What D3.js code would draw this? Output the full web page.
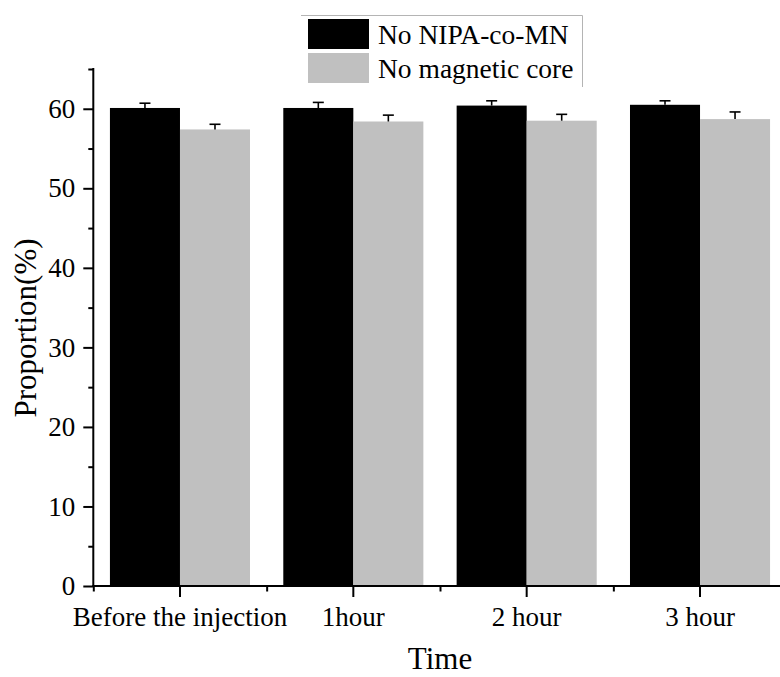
<!DOCTYPE html>
<html>
<head>
<meta charset="utf-8">
<script src="https://cdn.jsdelivr.net/npm/d3@7/dist/d3.min.js"></script>
<style>
  html, body { margin: 0; padding: 0; background: #fff; }
  svg { display: block; font-family: "Liberation Serif", "Times New Roman", serif; }
</style>
</head>
<body>
<svg id="chart" width="780" height="677"></svg>
<script>
const categories = ["Before the injection", "1hour", "2 hour", "3 hour"];
const seriesNames = ["No NIPA-co-MN", "No magnetic core"];
const seriesColors = ["#000000", "#c0c0c0"];
const noNipaValues = [60.1, 60.1, 60.4, 60.5];
const noNipaErrors = [0.6, 0.7, 0.6, 0.5];
const noCoreValues = [57.4, 58.4, 58.5, 58.7];
const noCoreErrors = [0.65, 0.8, 0.8, 0.9];
const yTicks = [0, 10, 20, 30, 40, 50, 60];
const yMinorTicks = [5, 15, 25, 35, 45, 55, 65];

(function () {
const svg = d3.select("#chart");
const mLeft = 93.3, mRight = 786.7, mTop = 69, mBottom = 586;

const x = d3.scaleBand().domain(categories).range([mLeft, mRight]).padding(0);
const xLin = d3.scaleLinear().domain([0, categories.length]).range([mLeft, mRight]);
const y = d3.scaleLinear().domain([0, 65]).range([mBottom, mTop]);

const bw = x.bandwidth();
const barW = bw * 0.404;

const series = [
  { name: seriesNames[0], color: seriesColors[0], values: noNipaValues, errors: noNipaErrors, off: -barW },
  { name: seriesNames[1], color: seriesColors[1], values: noCoreValues, errors: noCoreErrors, off: 0 }
];

// bars
series.forEach(s => {
  const g = svg.append("g");
  g.selectAll("rect").data(categories).join("rect")
    .attr("x", d => x(d) + bw / 2 + s.off)
    .attr("y", (d, i) => y(s.values[i]))
    .attr("width", barW)
    .attr("height", (d, i) => y(0) - y(s.values[i]))
    .attr("fill", s.color);
  const eg = svg.append("g").attr("stroke", "#000").attr("stroke-width", 1.6);
  categories.forEach((c, i) => {
    const cx = x(c) + bw / 2 + s.off + barW / 2;
    eg.append("line").attr("x1", cx).attr("x2", cx)
      .attr("y1", y(s.values[i])).attr("y2", y(s.values[i] + s.errors[i]));
    eg.append("line").attr("x1", cx - 5.5).attr("x2", cx + 5.5)
      .attr("y1", y(s.values[i] + s.errors[i])).attr("y2", y(s.values[i] + s.errors[i]));
  });
});

// y axis
const yAxis = svg.append("g").attr("transform", `translate(${mLeft},0)`)
  .call(d3.axisLeft(y).tickValues(yTicks).tickSize(10).tickPadding(8).tickFormat(d3.format("d")));
yAxis.select(".domain").remove();
yAxis.selectAll(".tick line").attr("stroke-width", 2);
yAxis.selectAll("text").attr("font-size", 27).attr("fill", "#000")
  .attr("font-family", "Liberation Serif, Times New Roman, serif");
const yMinor = svg.append("g").attr("transform", `translate(${mLeft},0)`)
  .call(d3.axisLeft(y).tickValues(yMinorTicks).tickSize(5).tickFormat(""));
yMinor.select(".domain").remove();
yMinor.selectAll(".tick line").attr("stroke-width", 2);
svg.append("line").attr("x1", mLeft).attr("x2", mLeft).attr("y1", mTop - 1).attr("y2", mBottom + 1)
  .attr("stroke", "#000").attr("stroke-width", 2);

// x axis
const xAxis = svg.append("g").attr("transform", `translate(0,${mBottom})`)
  .call(d3.axisBottom(x).tickSize(11).tickPadding(10));
xAxis.select(".domain").remove();
xAxis.selectAll(".tick line").attr("stroke-width", 2);
xAxis.selectAll("text").attr("font-size", 27).attr("fill", "#000")
  .attr("font-family", "Liberation Serif, Times New Roman, serif");
const xMinor = svg.append("g").attr("transform", `translate(0,${mBottom})`)
  .call(d3.axisBottom(xLin).tickValues(d3.range(0, categories.length + 1)).tickSize(5.5).tickFormat(""));
xMinor.select(".domain").remove();
xMinor.selectAll(".tick line").attr("stroke-width", 2);
svg.append("line").attr("x1", mLeft - 1).attr("x2", mRight).attr("y1", mBottom).attr("y2", mBottom)
  .attr("stroke", "#000").attr("stroke-width", 2);

// axis titles
svg.append("text").attr("x", (mLeft + mRight) / 2).attr("y", 669)
  .attr("text-anchor", "middle").attr("font-size", 31).text("Time");
svg.append("text").attr("transform", "translate(36,328) rotate(-90)")
  .attr("text-anchor", "middle").attr("font-size", 31).text("Proportion(%)");

// legend
const lg = svg.append("g");
lg.append("path").attr("d", "M301,15.5 H582.5 V87").attr("fill", "none")
  .attr("stroke", "#b4b4b4").attr("stroke-width", 1);
series.forEach((s, i) => {
  lg.append("rect").attr("x", 308).attr("y", 19 + i * 34).attr("width", 61).attr("height", 30)
    .attr("fill", s.color);
  lg.append("text").attr("x", 378).attr("y", 44 + i * 34).attr("font-size", 27.5).text(s.name);
});
})();
</script>
</body>
</html>
